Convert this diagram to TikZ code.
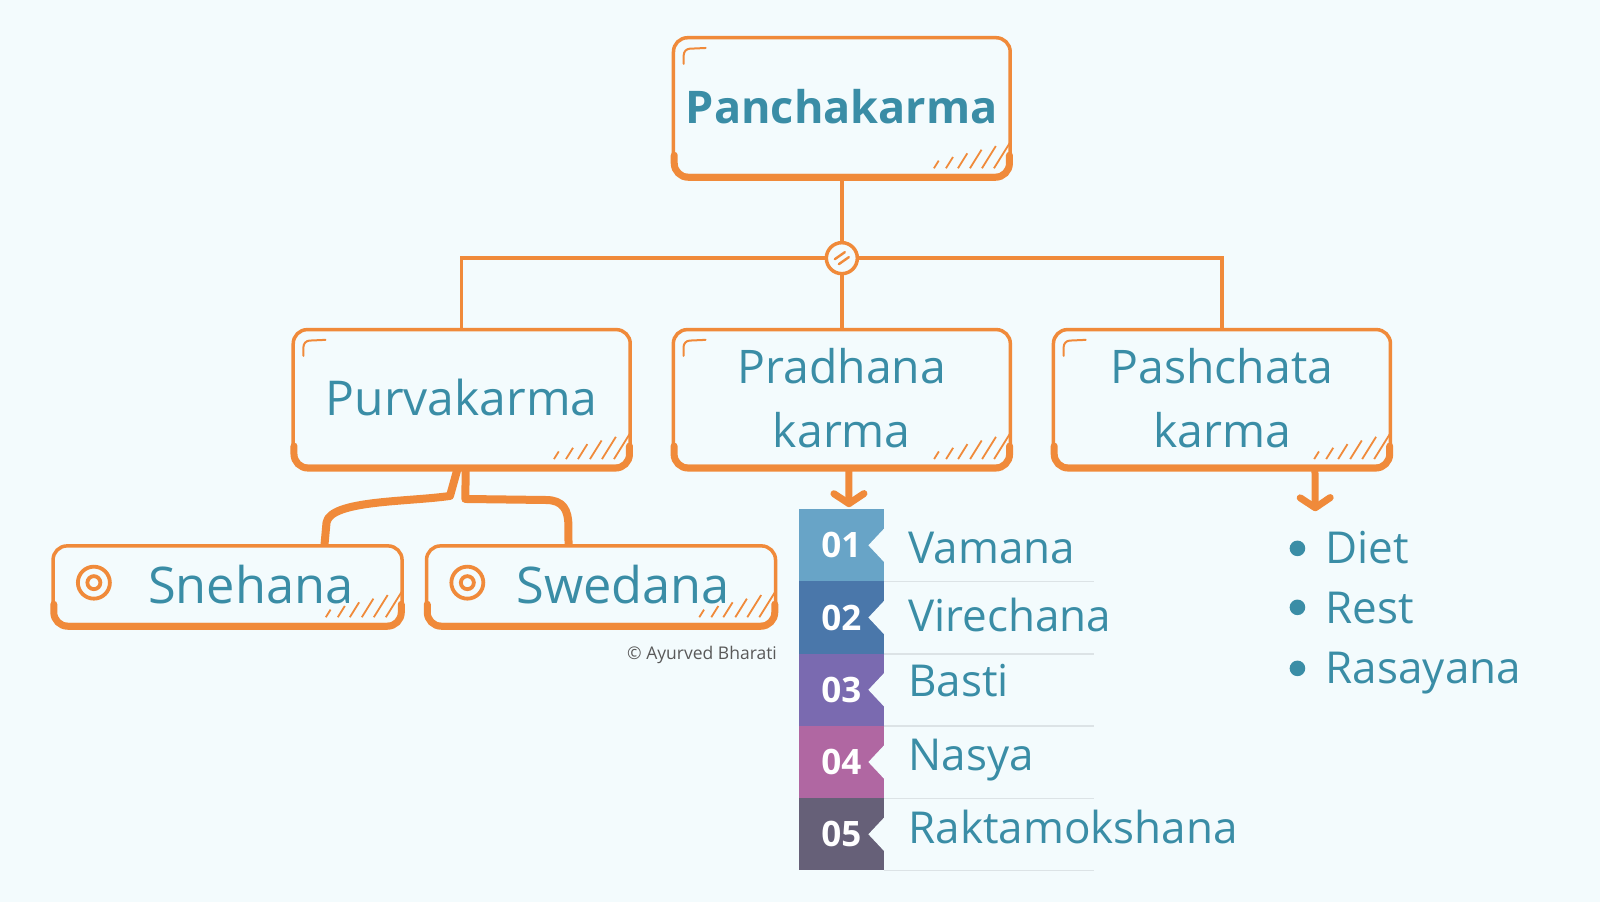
\documentclass[tikz,border=0pt]{standalone}
\usepackage{fontspec}
\setmainfont{Open Sans}
\usetikzlibrary{arrows.meta}
\definecolor{bg}{HTML}{F3FBFD}
\definecolor{org}{HTML}{F08A3A}
\definecolor{tl}{HTML}{3A8DA6}
\definecolor{ca}{HTML}{68A4C7}
\definecolor{cb}{HTML}{4A77AA}
\definecolor{cc}{HTML}{7A6AB0}
\definecolor{cd}{HTML}{B067A2}
\definecolor{ce}{HTML}{666078}
\definecolor{sepc}{HTML}{DCE3E6}
\newcommand\boxbase[1]{%
  \draw[org, line width=7pt, rounded corners=14pt, line cap=round]
    ([xshift=2.5pt,yshift=22pt]#1.south west) -- ([xshift=2.5pt,yshift=0pt]#1.south west)
    -- ([xshift=-2.5pt,yshift=0pt]#1.south east) -- ([xshift=-2.5pt,yshift=22pt]#1.south east);
  \foreach \i in {0,...,5}{%
    \draw[org, line width=1.8pt]
      ([xshift={-(78-12*\i)*1pt}, yshift=9pt]#1.south east) -- ++(58:{(9+4.3*\i)*1pt});}%
}
\newcommand\boxmark[1]{%
  \draw[org, line width=2pt, rounded corners=6pt, line cap=round]
    ([xshift=12pt,yshift=-28pt]#1.north west) -- ([xshift=12pt,yshift=-13pt]#1.north west)
    -- ([xshift=34pt,yshift=-12pt]#1.north west);}
\begin{document}
\begin{tikzpicture}[x=1.0204pt,y=-1.0204pt,
  sbox/.style={draw=org, line width=3.5pt, rounded corners=14pt, fill=bg, inner sep=0pt,
    text=tl, align=center},
  conn/.style={draw=org, line width=3.5pt},
  branch/.style={draw=org, line width=8pt, line join=round},
  arr/.style={draw=org, line width=7pt, -{Straight Barb[round,length=10pt,width=30pt]}},
  rowbox/.style={minimum width=84.7pt, minimum height=72.3pt, inner sep=0pt, text=white,
    font=\fontsize{35}{40}\selectfont\bfseries},
  item/.style={anchor=base west, text=tl, inner sep=0pt, font=\fontsize{44}{50}\selectfont},
  sepline/.style={draw=sepc, line width=1.5pt},
  ring/.style={draw=org, line width=3.8pt}]
\fill[bg] (0,0) rectangle (1568,884);
\useasboundingbox (0,0) rectangle (1568,884);

% main boxes
\node[sbox, minimum width=336.7pt, minimum height=137.8pt,
  font=\fontsize{45}{50}\selectfont\bfseries] (top) at (825,104.5) {Panchakarma};
\node[sbox, minimum width=337pt, minimum height=136.7pt,
  font=\fontsize{48}{64}\selectfont] (purva) at (452.5,390) {Purvakarma};
\node[sbox, minimum width=337pt, minimum height=136.7pt,
  font=\fontsize{46.3}{64}\selectfont] (pradh) at (825,390) {Pradhana\\karma};
\node[sbox, minimum width=337pt, minimum height=136.7pt,
  font=\fontsize{46.3}{64}\selectfont] (pasch) at (1197.5,390) {Pashchata\\karma};
\node[sbox, minimum width=349pt, minimum height=78.6pt] (sneh) at (223,573.5) {};
\node[sbox, minimum width=349pt, minimum height=78.6pt] (swed) at (589,573.5) {};
\boxbase{top}\boxmark{top}
\boxbase{purva}\boxmark{purva}
\boxbase{pradh}\boxmark{pradh}
\boxbase{pasch}\boxmark{pasch}
\boxbase{sneh}
\boxbase{swed}

% hub
\node[circle, draw=org, line width=3.5pt, fill=bg, minimum size=31pt, inner sep=0pt] (hub) at (825,253) {};
\draw[org, line width=2.4pt, line cap=round] ([xshift=-7pt,yshift=-1pt]hub.center) -- ([xshift=3pt,yshift=6pt]hub.center);
\draw[org, line width=2.4pt, line cap=round] ([xshift=-3pt,yshift=-6pt]hub.center) -- ([xshift=7pt,yshift=1pt]hub.center);
\draw[conn] (top.south) -- (hub.north);
\draw[conn] (hub.south) -- (pradh.north);
\draw[conn] (hub.west) -| (purva.north);
\draw[conn] (hub.east) -| (pasch.north);

% branches to Snehana / Swedana
\draw[branch] ([xshift=-4pt]purva.south) -- (441,486) .. controls (400,492) and (324,490) .. (320,512)
  -- ([xshift=97pt]sneh.north);
\draw[branch] ([xshift=4pt]purva.south) -- (456,489) -- (535,490) .. controls (552,490) and (557,500) .. (557,515)
  -- ([xshift=-32.5pt]swed.north);

% Snehana / Swedana contents
\draw[ring] (92,571) circle[radius=16pt];
\draw[ring] (92,571) circle[radius=6.5pt];
\draw[ring] (458,571) circle[radius=16pt];
\draw[ring] (458,571) circle[radius=6.5pt];
\node[anchor=base west, inner sep=0pt, text=tl, font=\fontsize{50.5}{52}\selectfont] (tsneh) at (145,591) {Snehana};
\node[anchor=base west, inner sep=0pt, text=tl, font=\fontsize{50.5}{52}\selectfont] (tswed) at (506,591) {Swedana};
\node[text=black!65, inner sep=0pt, font=\fontsize{17.5}{19}\selectfont] (copy) at (688,642) {© Ayurved Bharati};

% arrows
\coordinate (pradtip) at (832,497);
\coordinate (paschtip) at (1289,501);
\draw[arr] ([xshift=7pt]pradh.south) -- (pradtip);
\draw[arr] ([xshift=93pt]pasch.south) -- (paschtip);

% numbered list
\node[rowbox, fill=ca] (r1) at (824.5,534.4) {01};
\node[rowbox, fill=cb] (r2) at (824.5,605.2) {02};
\node[rowbox, fill=cc] (r3) at (824.5,676.0) {03};
\node[rowbox, fill=cd] (r4) at (824.5,746.8) {04};
\node[rowbox, fill=ce] (r5) at (824.5,817.6) {05};
\foreach \r in {r1,r2,r3,r4,r5}{%
  \fill[bg] ([yshift=16.5pt]\r.east) -- ([xshift=-15.5pt]\r.east) -- ([yshift=-16.5pt]\r.east) -- cycle;
  \draw[sepline] (\r.south east) -- ++(210pt,0pt);}
\node[item] (l1) at (890,552.7) {Vamana};
\node[item] (l2) at (890,619) {Virechana};
\node[item] (l3) at (890,683) {Basti};
\node[item] (l4) at (890,754.6) {Nasya};
\node[item] (l5) at (890,826.5) {Raktamokshana};

% bullet list
\fill[tl] (1271.5,537.4) circle[radius=7.8pt];
\fill[tl] (1271.5,595.2) circle[radius=7.8pt];
\fill[tl] (1271.5,655) circle[radius=7.8pt];
\node[item] (b1) at (1299,552) {Diet};
\node[item] (b2) at (1299,611) {Rest};
\node[item] (b3) at (1299,670) {Rasayana};
\end{tikzpicture}
\end{document}
